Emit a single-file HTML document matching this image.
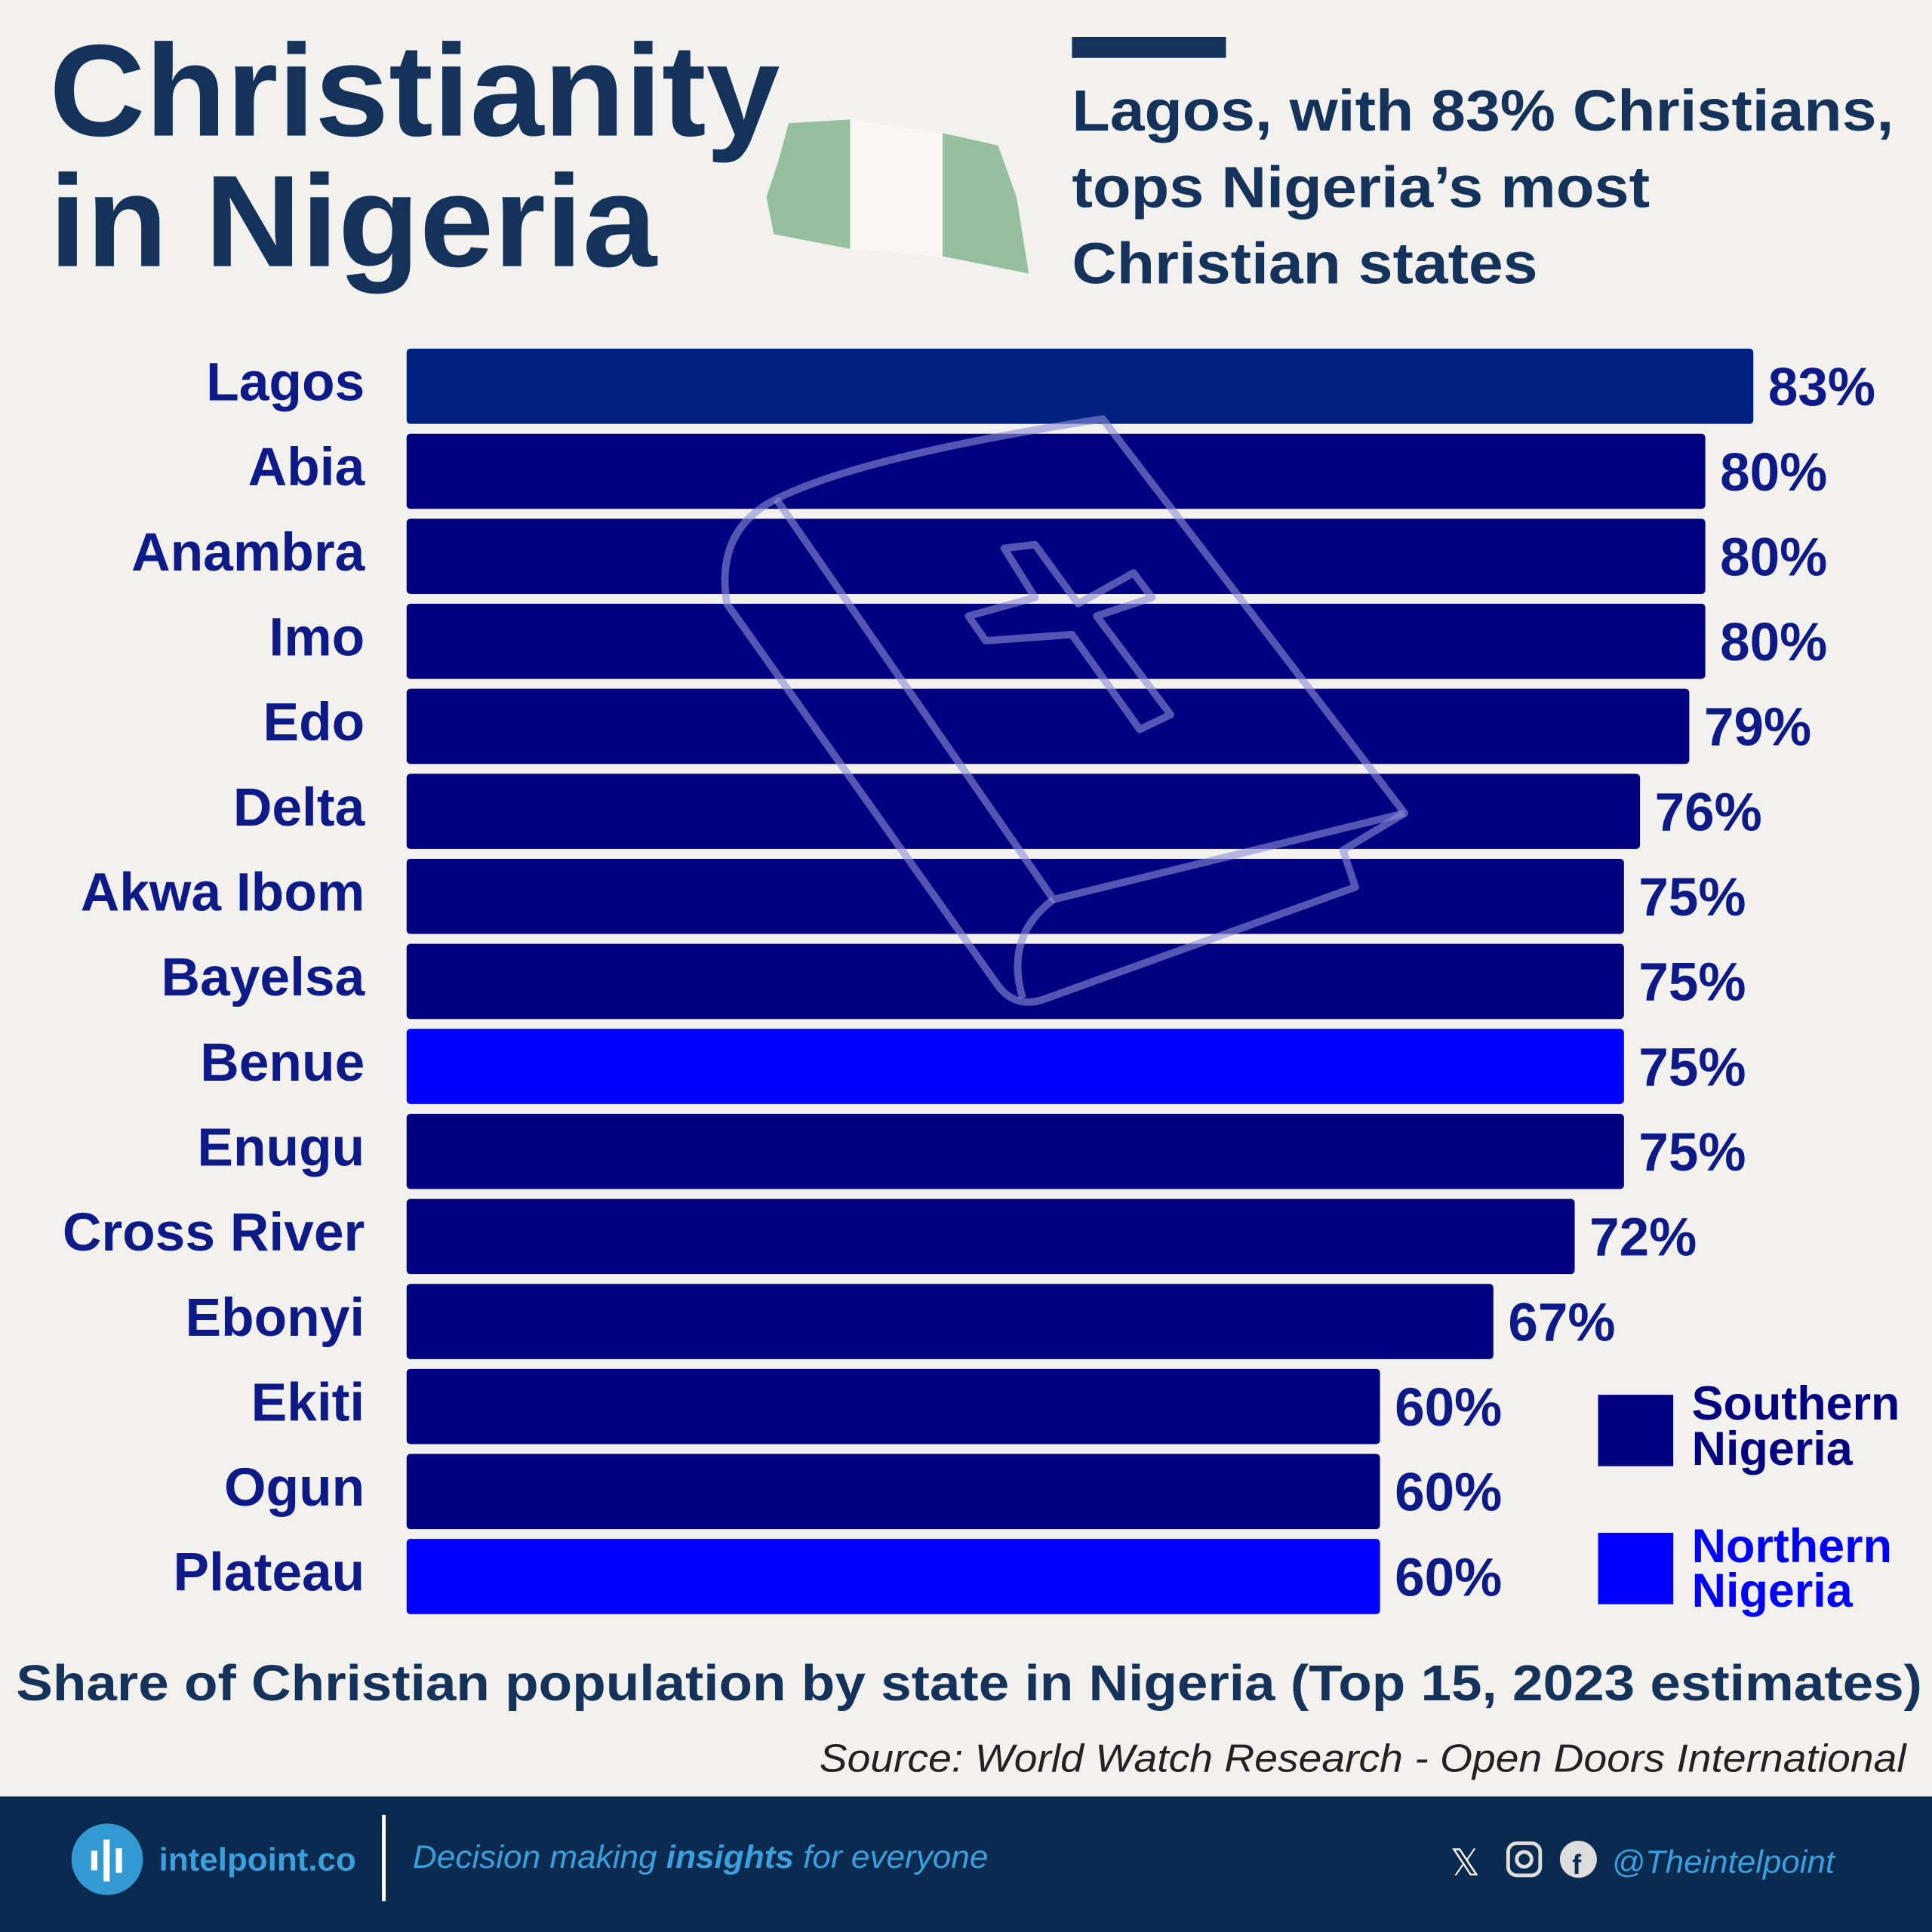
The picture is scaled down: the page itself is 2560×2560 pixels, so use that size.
<!DOCTYPE html>
<html><head><meta charset="utf-8"><style>
html,body{margin:0;padding:0;background:#f2f1ee}
svg{display:block}
text{font-family:"Liberation Sans",sans-serif}
</style></head><body>
<svg width="2560" height="2560" viewBox="0 0 1568 1568" xmlns="http://www.w3.org/2000/svg">
<rect width="1568" height="1568" fill="#f2f1ee"/>
<text x="40" y="110" font-size="106" font-weight="bold" fill="#14325a" textLength="593" lengthAdjust="spacingAndGlyphs">Christianity</text>
<text x="40" y="216" font-size="106" font-weight="bold" fill="#14325a" textLength="493" lengthAdjust="spacingAndGlyphs">in Nigeria</text>
<!-- flag -->
<polygon points="640,100 690,97 690,202 628,190 622,160 632,130" fill="#96bfa0"/>
<polygon points="690,97 765,108 765,208 690,202" fill="#f9f8f4"/>
<polygon points="765,108 810,118 825,160 835,222 765,208" fill="#96bfa0"/>
<rect x="870" y="30" width="125" height="17" fill="#14325a"/>
<g font-size="47" font-weight="bold" fill="#14325a">
<text x="870" y="106" textLength="667" lengthAdjust="spacingAndGlyphs">Lagos, with 83% Christians,</text>
<text x="870" y="168" textLength="469" lengthAdjust="spacingAndGlyphs">tops Nigeria’s most</text>
<text x="870" y="230" textLength="378" lengthAdjust="spacingAndGlyphs">Christian states</text>
</g>
<!-- bars -->
<g>
<rect x="330" y="283" width="1093" height="61" rx="3" fill="#00217f"/>
<rect x="330" y="352" width="1054" height="61" rx="3" fill="#000080"/>
<rect x="330" y="421" width="1054" height="61" rx="3" fill="#000080"/>
<rect x="330" y="490" width="1054" height="61" rx="3" fill="#000080"/>
<rect x="330" y="559" width="1041" height="61" rx="3" fill="#000080"/>
<rect x="330" y="628" width="1001" height="61" rx="3" fill="#000080"/>
<rect x="330" y="697" width="988" height="61" rx="3" fill="#000080"/>
<rect x="330" y="766" width="988" height="61" rx="3" fill="#000080"/>
<rect x="330" y="835" width="988" height="61" rx="3" fill="#0000ff"/>
<rect x="330" y="904" width="988" height="61" rx="3" fill="#000080"/>
<rect x="330" y="973" width="948" height="61" rx="3" fill="#000080"/>
<rect x="330" y="1042" width="882" height="61" rx="3" fill="#000080"/>
<rect x="330" y="1111" width="790" height="61" rx="3" fill="#000080"/>
<rect x="330" y="1180" width="790" height="61" rx="3" fill="#000080"/>
<rect x="330" y="1249" width="790" height="61" rx="3" fill="#0000ff"/>
</g>
<!-- bible watermark -->
<g fill="none" stroke="#8e8ed6" stroke-opacity="0.6" stroke-width="6" stroke-linejoin="round">
<path d="M630,405 Q580,430 590,490 L810,800 Q825,820 850,810 L1100,720 L1090,690 L1140,660 L895,340 Q700,370 630,405 Z"/>
<path d="M630,405 L855,730 L1140,660"/>
<path d="M855,730 Q815,760 830,810"/>
<path d="M815,445 L840,442 L875,490 L920,465 L935,485 L890,500 L950,580 L925,592 L870,515 L800,520 L786,500 L840,485 Z"/>
</g>
<g font-size="43.7" font-weight="bold" fill="#0e1a87" text-anchor="end">
<text x="296" y="325">Lagos</text>
<text x="296" y="394">Abia</text>
<text x="296" y="463">Anambra</text>
<text x="296" y="532">Imo</text>
<text x="296" y="601">Edo</text>
<text x="296" y="670">Delta</text>
<text x="296" y="739">Akwa Ibom</text>
<text x="296" y="808">Bayelsa</text>
<text x="296" y="877">Benue</text>
<text x="296" y="946">Enugu</text>
<text x="296" y="1015">Cross River</text>
<text x="296" y="1084">Ebonyi</text>
<text x="296" y="1153">Ekiti</text>
<text x="296" y="1222">Ogun</text>
<text x="296" y="1291">Plateau</text>
</g>
<g font-size="43.5" font-weight="bold" fill="#0e1a87">
<text x="1435" y="329">83%</text>
<text x="1396" y="398">80%</text>
<text x="1396" y="467">80%</text>
<text x="1396" y="536">80%</text>
<text x="1383" y="605">79%</text>
<text x="1343" y="674">76%</text>
<text x="1330" y="743">75%</text>
<text x="1330" y="812">75%</text>
<text x="1330" y="881">75%</text>
<text x="1330" y="950">75%</text>
<text x="1290" y="1019">72%</text>
<text x="1224" y="1088">67%</text>
<text x="1132" y="1157">60%</text>
<text x="1132" y="1226">60%</text>
<text x="1132" y="1295">60%</text>
</g>
<!-- legend -->
<rect x="1297" y="1132" width="61" height="58" fill="#000080"/>
<rect x="1297" y="1244" width="61" height="58" fill="#0000ff"/>
<g font-size="38.5" font-weight="bold">
<text x="1373" y="1152" fill="#000080">Southern</text>
<text x="1373" y="1189" fill="#000080">Nigeria</text>
<text x="1373" y="1268" fill="#0000ff">Northern</text>
<text x="1373" y="1304" fill="#0000ff">Nigeria</text>
</g>
<text x="13" y="1380" font-size="41" font-weight="bold" fill="#14325a" textLength="1547" lengthAdjust="spacingAndGlyphs">Share of Christian population by state in Nigeria (Top 15, 2023 estimates)</text>
<text x="665" y="1438" font-size="32" font-style="italic" fill="#222" textLength="882" lengthAdjust="spacingAndGlyphs">Source: World Watch Research - Open Doors International</text>
<!-- footer -->
<rect x="0" y="1458" width="1568" height="110" fill="#0b2a4f"/>
<circle cx="87" cy="1509" r="29" fill="#3399d3"/>
<rect x="74" y="1502" width="5" height="16" fill="#fff"/>
<rect x="84" y="1493" width="5" height="34" fill="#fff"/>
<rect x="94" y="1500" width="5" height="20" fill="#fff"/>
<text x="129" y="1518" font-size="26" font-weight="bold" fill="#3a9fdb" textLength="160" lengthAdjust="spacingAndGlyphs">intelpoint.co</text>
<rect x="310" y="1473" width="3" height="70" fill="#fff"/>
<text x="335" y="1516" font-size="26" font-style="italic" fill="#3a9fdb" textLength="467" lengthAdjust="spacingAndGlyphs">Decision making <tspan font-weight="bold">insights</tspan> for everyone</text>
<text x="1177" y="1522" font-size="30" fill="#fff">𝕏</text>
<rect x="1224" y="1496" width="26" height="26" rx="7" fill="none" stroke="#ddd" stroke-width="3"/>
<circle cx="1237" cy="1509" r="6" fill="none" stroke="#ddd" stroke-width="3"/>
<circle cx="1281" cy="1509" r="15" fill="#ddd"/>
<text x="1276" y="1521" font-size="22" font-weight="bold" fill="#0b2a4f">f</text>
<text x="1308" y="1520" font-size="26" font-style="italic" fill="#3a9fdb" textLength="181" lengthAdjust="spacingAndGlyphs">@Theintelpoint</text>
</svg>
</body></html>
